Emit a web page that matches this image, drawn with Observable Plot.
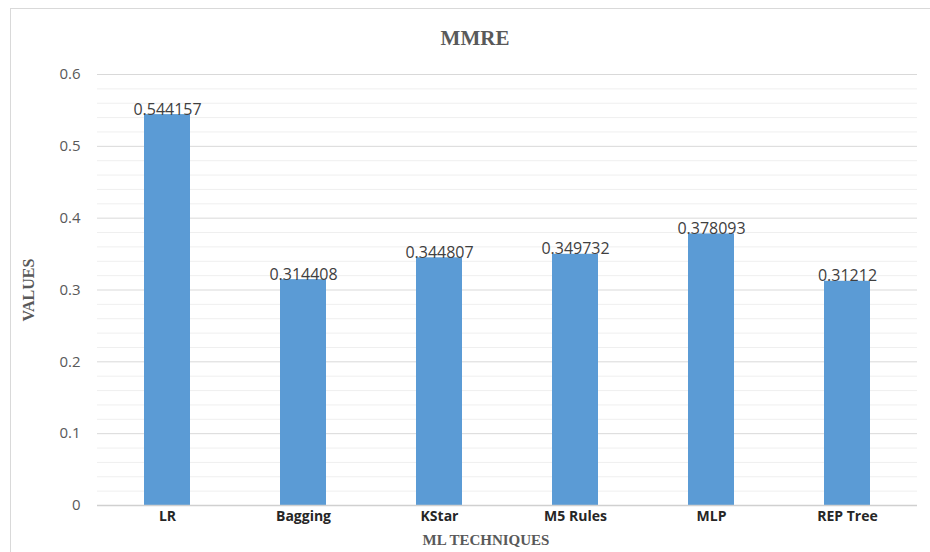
<!DOCTYPE html>
<html>
<head>
<meta charset="utf-8">
<script src="https://cdn.jsdelivr.net/npm/d3@7"></script>
<script src="https://cdn.jsdelivr.net/npm/@observablehq/plot@0.6"></script>
<style>
  html, body { margin: 0; padding: 0; background: #fff; }
  #wrap { position: relative; width: 930px; height: 552px; overflow: hidden; }
  #wrap svg { background: transparent; }
  .frame { position: absolute; left: 10px; top: 8px; width: 940px; height: 560px;
           border: 1px solid #d9d9d9; box-sizing: border-box; pointer-events: none; }
  .serif { position: absolute; font-family: "Liberation Serif", serif; font-weight: bold;
           color: #595959; white-space: nowrap; line-height: 1; }
  #title { left: 475px; top: 28px; font-size: 21px; transform: translateX(-50%); }
  #xlabel { left: 486px; top: 533px; font-size: 15px; transform: translateX(-50%); }
  #ylabel { left: 29px; top: 290px; font-size: 16px; transform: translate(-50%, -50%) rotate(-90deg); }
</style>
</head>
<body>
<div id="wrap"></div>
<script>
// MMRE per machine-learning technique
const categories = ["LR", "Bagging", "KStar", "M5 Rules", "MLP", "REP Tree"];
const mmre = [0.544157, 0.314408, 0.344807, 0.349732, 0.378093, 0.31212];

// y axis ticks with their labels, and the lighter minor gridlines between them
const yTicks = [0, 0.1, 0.2, 0.3, 0.4, 0.5, 0.6];
const yTickLabels = ["0", "0.1", "0.2", "0.3", "0.4", "0.5", "0.6"];
const minorGrid = [0.02, 0.04, 0.06, 0.08, 0.12, 0.14, 0.16, 0.18, 0.22, 0.24, 0.26, 0.28,
                   0.32, 0.34, 0.36, 0.38, 0.42, 0.44, 0.46, 0.48, 0.52, 0.54, 0.56, 0.58];

const table = categories.map((c, i) => ({technique: c, value: mmre[i]}));

const chart = Plot.plot({
  width: 930,
  height: 552,
  marginLeft: 97,
  marginRight: 13,
  marginTop: 74,
  marginBottom: 47,
  style: {fontFamily: "'Open Sans', sans-serif", background: "transparent"},
  x: {domain: categories, paddingInner: 0.66, paddingOuter: 0.33, label: null},
  y: {domain: [0, 0.6], label: null},
  marks: [
    Plot.ruleY(minorGrid, {stroke: "#efefef", strokeWidth: 1}),
    Plot.ruleY(yTicks.slice(1), {stroke: "#d9d9d9", strokeWidth: 1}),
    Plot.barY(table, {x: "technique", y: "value", fill: "#5b9bd5"}),
    Plot.ruleY([0], {stroke: "#d0d0d0", strokeWidth: 1.5}),
    Plot.text(table, {
      x: "technique", y: "value", text: d => String(d.value),
      lineAnchor: "bottom", dy: 0, fontSize: 16, fill: "#404040"
    }),
    Plot.axisY({
      ticks: yTicks, tickFormat: (d, i) => yTickLabels[i],
      tickSize: 0, tickPadding: 17, fontSize: 15, fill: "#595959"
    }),
    Plot.axisX({
      tickSize: 0, tickPadding: 6, fontSize: 14, fontWeight: "bold", fill: "#262626"
    })
  ]
});

const wrap = document.getElementById("wrap");
wrap.appendChild(chart);

function addText(id, text) {
  const el = document.createElement("div");
  el.id = id;
  el.className = "serif";
  el.textContent = text;
  wrap.appendChild(el);
}
addText("title", "MMRE");
addText("xlabel", "ML TECHNIQUES");
addText("ylabel", "VALUES");

const frame = document.createElement("div");
frame.className = "frame";
wrap.appendChild(frame);
</script>
</body>
</html>
